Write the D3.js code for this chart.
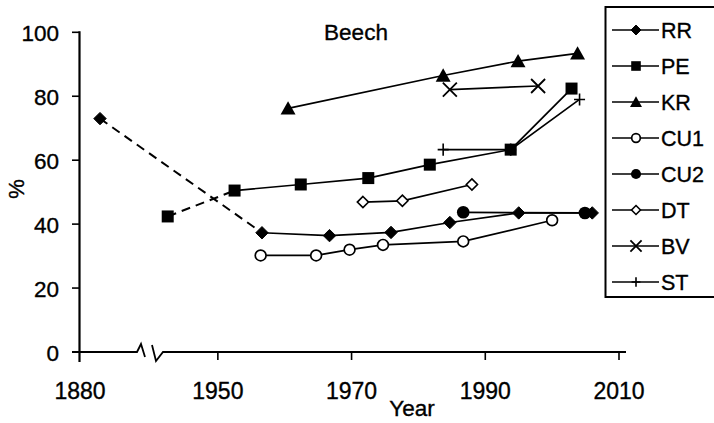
<!DOCTYPE html>
<html>
<head>
<meta charset="utf-8">
<script src="https://cdn.jsdelivr.net/npm/d3@7"></script>
<style>
  html, body { margin: 0; padding: 0; background: #fff; }
  svg text { font-family: "Liberation Sans", Arial, sans-serif; fill: #000; stroke: #000; stroke-width: 0.35; }
</style>
</head>
<body>
<svg id="chart" width="714" height="423"></svg>
<script>
// ---- data ----
const seriesNames = ["RR", "PE", "KR", "CU1", "CU2", "DT", "BV", "ST"];
const xTickYears = [1880, 1950, 1970, 1990, 2010];
const yTickValues = [0, 20, 40, 60, 80, 100];

const rrYears = [1883, 1956.6, 1966.7, 1975.9, 1984.7, 1995.0, 2006.0];
const rrPct   = [73.0, 37.3, 36.4, 37.4, 40.5, 43.5, 43.5];
const peYears = [1942.5, 1952.5, 1962.4, 1972.5, 1981.7, 1993.8, 2002.9];
const pePct   = [42.4, 50.5, 52.4, 54.4, 58.6, 63.3, 82.4];
const krYears = [1960.5, 1983.7, 1994.9, 2003.8];
const krPct   = [76.2, 86.5, 91.0, 93.4];
const cu1Years = [1956.4, 1964.7, 1969.7, 1974.7, 1986.7, 2000.0];
const cu1Pct   = [30.2, 30.2, 32.0, 33.5, 34.6, 41.2];
const cu2Years = [1986.7, 2004.9];
const cu2Pct   = [43.7, 43.5];
const dtYears = [1971.7, 1977.6, 1988.0];
const dtPct   = [46.9, 47.3, 52.4];
const bvYears = [1984.7, 1997.9];
const bvPct   = [82.1, 83.2];
const stYears = [1983.7, 1993.8, 2004.1];
const stPct   = [63.3, 63.3, 79.0];

const seriesYears = [rrYears, peYears, krYears, cu1Years, cu2Years, dtYears, bvYears, stYears];
const seriesPct   = [rrPct, pePct, krPct, cu1Pct, cu2Pct, dtPct, bvPct, stPct];
// series whose first segment is drawn dashed (early, interrupted record)
const dashedFirst = ["RR", "PE"];

// ---- styles ----
const markerType = {RR: "diamond", PE: "square", KR: "triangle", CU1: "circleOpen",
                    CU2: "circle", DT: "diamondOpen", BV: "x", ST: "plus"};

const svg = d3.select("#chart");

// broken x axis: 1880..1889 then 1940..2010
const x = d3.scaleLinear().domain([1880, 1889, 1940, 2010]).range([80, 140, 151, 619]);
const y = d3.scaleLinear().domain([0, 100]).range([352, 32.3]);

// ---- axes ----
const yAxisX = 79.5;
svg.append("line").attr("x1", yAxisX).attr("x2", yAxisX)
  .attr("y1", y(100) - 1).attr("y2", 362)
  .attr("stroke", "#000").attr("stroke-width", 2.2);

yTickValues.forEach(v => {
  svg.append("line").attr("x1", 72).attr("x2", yAxisX).attr("y1", y(v)).attr("y2", y(v))
    .attr("stroke", "#000").attr("stroke-width", 1.6);
  svg.append("text").attr("x", 59).attr("y", y(v) + 1).attr("dy", "0.36em")
    .attr("text-anchor", "end").attr("font-size", 22.5).text(v);
});

// x axis line with break
const y0 = y(0);
svg.append("path")
  .attr("d", `M72,${y0} L137,${y0} L141,${y0 - 8} L145,${y0 + 5}`)
  .attr("fill", "none").attr("stroke", "#000").attr("stroke-width", 1.8);
svg.append("path")
  .attr("d", `M152,${y0 - 7} L156,${y0 + 9} L163,${y0} L626,${y0}`)
  .attr("fill", "none").attr("stroke", "#000").attr("stroke-width", 1.8);

xTickYears.forEach(yr => {
  if (yr !== 1880) {
    svg.append("line").attr("x1", x(yr)).attr("x2", x(yr)).attr("y1", y0).attr("y2", y0 + 8)
      .attr("stroke", "#000").attr("stroke-width", 1.6);
  }
  svg.append("text").attr("x", x(yr)).attr("y", 398.5)
    .attr("text-anchor", "middle").attr("font-size", 23).text(yr);
});

svg.append("text").attr("x", 412).attr("y", 416).attr("text-anchor", "middle")
  .attr("font-size", 22.5).text("Year");
svg.append("text").attr("transform", "translate(24,189) rotate(-90)")
  .attr("text-anchor", "middle").attr("font-size", 22).text("%");
svg.append("text").attr("x", 356).attr("y", 39.5).attr("text-anchor", "middle")
  .attr("font-size", 22.5).text("Beech");

// ---- marker drawing ----
function drawMarker(g, type, cx, cy, s) {
  switch (type) {
    case "diamond":
    case "diamondOpen":
      g.append("path")
        .attr("d", `M${cx},${cy - s} L${cx + s},${cy} L${cx},${cy + s} L${cx - s},${cy} Z`)
        .attr("fill", type === "diamond" ? "#000" : "#fff")
        .attr("stroke", "#000").attr("stroke-width", type === "diamond" ? 1 : 1.6);
      break;
    case "square":
      g.append("rect").attr("x", cx - s).attr("y", cy - s).attr("width", 2 * s).attr("height", 2 * s)
        .attr("fill", "#000");
      break;
    case "triangle":
      g.append("path")
        .attr("d", `M${cx},${cy - s * 1.1} L${cx + s * 1.15},${cy + s * 0.95} L${cx - s * 1.15},${cy + s * 0.95} Z`)
        .attr("fill", "#000");
      break;
    case "circleOpen":
      g.append("circle").attr("cx", cx).attr("cy", cy).attr("r", s * 0.9)
        .attr("fill", "#fff").attr("stroke", "#000").attr("stroke-width", 1.7);
      break;
    case "circle":
      g.append("circle").attr("cx", cx).attr("cy", cy).attr("r", s).attr("fill", "#000");
      break;
    case "x":
      g.append("path")
        .attr("d", `M${cx - s},${cy - s} L${cx + s},${cy + s} M${cx - s},${cy + s} L${cx + s},${cy - s}`)
        .attr("stroke", "#000").attr("stroke-width", 1.8).attr("fill", "none");
      break;
    case "plus":
      g.append("path")
        .attr("d", `M${cx - s},${cy} L${cx + s},${cy} M${cx},${cy - s * 1.1} L${cx},${cy + s * 1.1}`)
        .attr("stroke", "#000").attr("stroke-width", 1.6).attr("fill", "none");
      break;
  }
}
const markerSize = {diamond: 6.2, diamondOpen: 5.6, square: 6, triangle: 6.5,
                    circleOpen: 6, circle: 6.3, x: 7, plus: 5.5};

// ---- series ----
const lineGen = d3.line().x(d => x(d[0])).y(d => y(d[1]));
const plot = svg.append("g");
seriesNames.forEach((name, i) => {
  const pts = seriesYears[i].map((yr, j) => [yr, seriesPct[i][j]]);
  if (dashedFirst.includes(name)) {
    plot.append("path").attr("d", lineGen(pts.slice(0, 2)))
      .attr("fill", "none").attr("stroke", "#000").attr("stroke-width", 2)
      .attr("stroke-dasharray", "9,6");
    plot.append("path").attr("d", lineGen(pts.slice(1)))
      .attr("fill", "none").attr("stroke", "#000").attr("stroke-width", 1.7);
  } else {
    plot.append("path").attr("d", lineGen(pts))
      .attr("fill", "none").attr("stroke", "#000").attr("stroke-width", 1.7);
  }
});
seriesNames.forEach((name, i) => {
  const t = markerType[name];
  seriesYears[i].forEach((yr, j) => {
    drawMarker(plot, t, x(yr), y(seriesPct[i][j]), markerSize[t]);
  });
});

// ---- legend ----
const leg = svg.append("g");
leg.append("rect").attr("x", 605.5).attr("y", 7).attr("width", 140).attr("height", 290)
  .attr("fill", "#fff").attr("stroke", "#000").attr("stroke-width", 2);
seriesNames.forEach((name, i) => {
  const cy = 30 + i * 36;
  leg.append("line").attr("x1", 612).attr("x2", 659).attr("y1", cy).attr("y2", cy)
    .attr("stroke", "#000").attr("stroke-width", 1.7);
  const t = markerType[name];
  drawMarker(leg, t, 636, cy, markerSize[t] * 0.8);
  leg.append("text").attr("x", 661).attr("y", cy + 0.5).attr("dy", "0.36em")
    .attr("font-size", 21.5).text(name);
});
</script>
</body>
</html>
